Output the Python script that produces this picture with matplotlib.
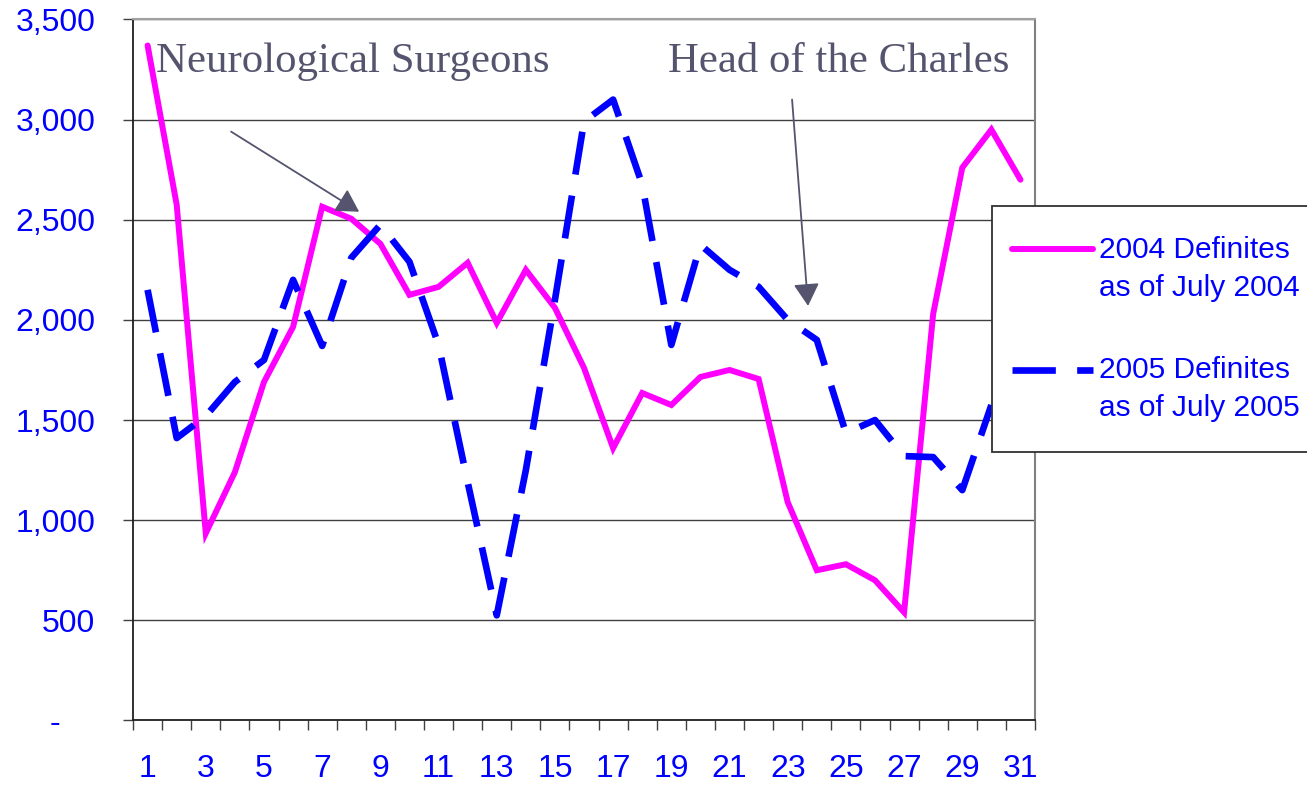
import numpy as np
import matplotlib.pyplot as plt
from matplotlib.ticker import FixedLocator, FuncFormatter
from matplotlib.transforms import ScaledTranslation
from matplotlib.legend_handler import HandlerLine2D

# data (days of the month)
days = np.arange(1, 32)
defs_2004 = [3370, 2575, 935, 1240, 1690, 1965, 2565, 2505, 2380, 2125,
             2165, 2285, 1985, 2250, 2060, 1760, 1360, 1635, 1575, 1715,
             1750, 1705, 1090, 750, 780, 700, 540, 2030, 2760, 2950, 2700]
defs_2005 = [2150, 1410, 1520, 1690, 1800, 2200, 1870, 2310, 2475, 2290,
             1875, 1190, 525, 1250, 2100, 2990, 3100, 2675, 1875, 2375,
             2250, 2165, 2000, 1900, 1435, 1500, 1320, 1315, 1150, 1575]
label_2004 = "2004 Definites\nas of July 2004"
label_2005 = "2005 Definites\nas of July 2005"
y_ticks = [0, 500, 1000, 1500, 2000, 2500, 3000, 3500]

plt.rcParams['font.family'] = ['Liberation Sans', 'DejaVu Sans']


class FirstLineHandler(HandlerLine2D):
    # legend sample sits next to the first line of the label, Excel style
    def create_artists(self, legend, orig_handle, xdescent, ydescent,
                       width, height, fontsize, trans):
        arts = super().create_artists(legend, orig_handle, xdescent, ydescent,
                                      width, height, fontsize, trans)
        for a in arts:
            y = np.asarray(a.get_ydata(), float) + 14.5
            a.set_data([-7.2, -7.2 + 58.3], [y[0], y[0]])
        return arts


fig = plt.figure(figsize=(13.07, 7.85), dpi=100)
ax = fig.add_axes([0.1018, 0.0822, 0.6901, 0.893])

ax.plot(days, defs_2004, color='#FF00FF', lw=4.3, solid_capstyle='round',
        solid_joinstyle='miter', label=label_2004, zorder=3)
ax.plot(days[:len(defs_2005)], defs_2005, color='#0000FF', lw=4.8,
        linestyle=(0, (6.5, 3.2)), dash_capstyle='butt', label=label_2005, zorder=3)

ax.set_xlim(0.5, 31.5)
ax.set_ylim(0, 3500)

# y axis
ax.yaxis.set_major_locator(FixedLocator(y_ticks))
ax.yaxis.set_major_formatter(FuncFormatter(lambda v, p: '-' if v == 0 else '{:,.0f}'.format(v)))
ax.tick_params(axis='y', direction='out', length=7.2, width=1, color='#404040',
               labelsize=23, labelcolor='#0000FF', pad=20)
ax.grid(axis='y', color='#404040', lw=1.0, zorder=1)
ax.set_axisbelow(True)

# x axis: labels on odd days, ticks between categories
ax.xaxis.set_major_locator(FixedLocator(days[::2]))
ax.xaxis.set_minor_locator(FixedLocator(np.arange(0.5, 32, 1)))
ax.tick_params(axis='x', which='major', length=0, labelsize=23,
               labelcolor='#0000FF', pad=24)
ax.tick_params(axis='x', which='minor', direction='out', length=7.2, width=1,
               color='#404040')

for side in ['left', 'bottom']:
    ax.spines[side].set_color('#202020')
    ax.spines[side].set_linewidth(1.3)
ax.spines['top'].set_color('#A0A0A0')
ax.spines['top'].set_linewidth(1.5)
ax.spines['right'].set_color('#808080')
ax.spines['right'].set_linewidth(1.5)

# the "-" for zero sits left of the other labels
fig.canvas.draw()
for lab in ax.get_yticklabels():
    if lab.get_text() == '-':
        lab.set_transform(lab.get_transform() + ScaledTranslation(-0.35, 0, fig.dpi_scale_trans))

# annotations
note_col = '#54546E'
ax.text(1.3, 3240, 'Neurological Surgeons', family='Liberation Serif',
        fontsize=30.9, color=note_col, va='baseline', ha='left', zorder=4)
ax.text(18.88, 3240, 'Head of the Charles', family='Liberation Serif',
        fontsize=30.8, color=note_col, va='baseline', ha='left', zorder=4)
arrow = dict(arrowstyle='-|>,head_length=1.37,head_width=0.79', mutation_scale=10,
             color=note_col, lw=1.3, shrinkA=0, shrinkB=0)
ax.annotate('', xy=(8.27, 2540), xytext=(3.87, 2940), arrowprops=arrow, zorder=4)
ax.annotate('', xy=(23.7, 2070), xytext=(23.15, 3100), arrowprops=arrow, zorder=4)

# legend, running off the right edge like the original
leg = ax.legend(loc='upper left', bbox_to_anchor=(0.759, 0.3, 0.3, 0.438),
                bbox_transform=fig.transFigure, mode='expand', borderaxespad=0,
                fontsize=21.5, handlelength=2.38, handletextpad=0.2,
                borderpad=1.0, labelspacing=1.8, fancybox=False,
                framealpha=1, edgecolor='#303030',
                handler_map={plt.Line2D: FirstLineHandler()})
leg.get_frame().set_linewidth(1.3)
for t in leg.get_texts():
    t.set_color('#0000FF')
    t.set_linespacing(1.48)
leg.set_zorder(5)

fig.savefig('out.png', dpi=100, facecolor='white')
